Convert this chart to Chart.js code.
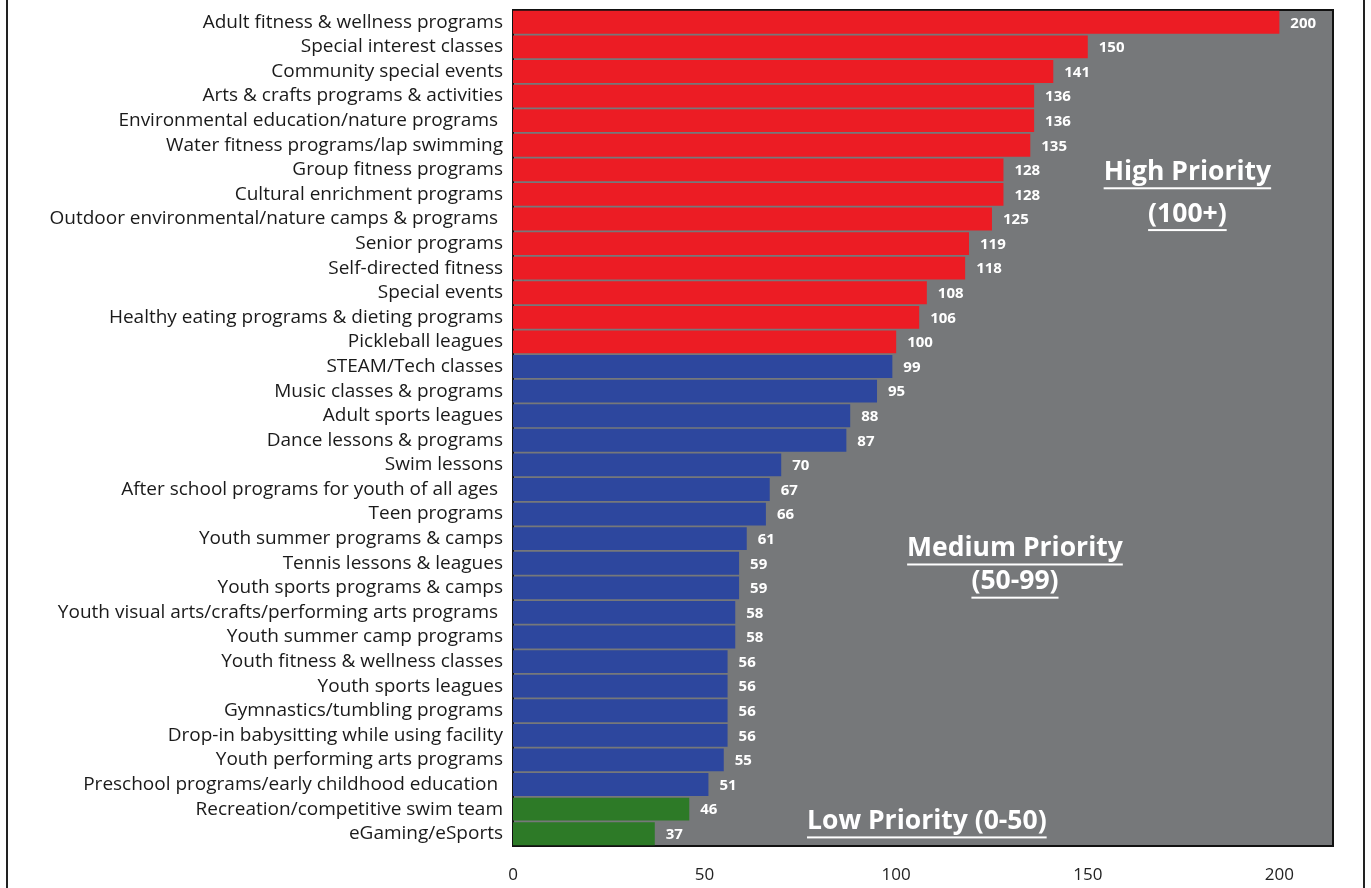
<!DOCTYPE html>
<html>
<head>
<meta charset="utf-8">
<script src="https://cdn.jsdelivr.net/npm/chart.js@4"></script>
<style>
  html, body { margin: 0; padding: 0; background: #fff; }
  #wrap { position: relative; width: 1371px; height: 888px; }
  #frame { position: absolute; left: 6px; top: 0; width: 1359px; height: 888px; border-left: 2px solid #222; border-right: 2px solid #222; box-sizing: border-box; pointer-events: none; }
</style>
</head>
<body>
<div id="wrap">
  <canvas id="chart1" width="1371" height="888"></canvas>
  <div id="frame"></div>
</div>
<script>
// data
var programs = [
    "Adult fitness & wellness programs",
    "Special interest classes",
    "Community special events",
    "Arts & crafts programs & activities",
    "Environmental education/nature programs ",
    "Water fitness programs/lap swimming",
    "Group fitness programs",
    "Cultural enrichment programs",
    "Outdoor environmental/nature camps & programs ",
    "Senior programs",
    "Self-directed fitness",
    "Special events",
    "Healthy eating programs & dieting programs",
    "Pickleball leagues",
    "STEAM/Tech classes",
    "Music classes & programs",
    "Adult sports leagues",
    "Dance lessons & programs",
    "Swim lessons",
    "After school programs for youth of all ages ",
    "Teen programs",
    "Youth summer programs & camps",
    "Tennis lessons & leagues",
    "Youth sports programs & camps",
    "Youth visual arts/crafts/performing arts programs ",
    "Youth summer camp programs",
    "Youth fitness & wellness classes",
    "Youth sports leagues",
    "Gymnastics/tumbling programs",
    "Drop-in babysitting while using facility",
    "Youth performing arts programs",
    "Preschool programs/early childhood education ",
    "Recreation/competitive swim team",
    "eGaming/eSports"
];
var scores = [200, 150, 141, 136, 136, 135, 128, 128, 125, 119, 118, 108, 106, 100,
    99, 95, 88, 87, 70, 67, 66, 61, 59, 59, 58, 58, 56, 56, 56, 56, 55, 51, 46, 37];
var xTicks = [0, 50, 100, 150, 200];

// priority notes: text, value on x, row position on y
var notes = [
    { text: "High Priority", x: 176, y: 6.1 },
    { text: "(100+)", x: 176, y: 7.8 },
    { text: "Medium Priority", x: 131, y: 21.4 },
    { text: "(50-99)", x: 131, y: 22.75 },
    { text: "Low Priority (0-50)", x: 108, y: 32.5 }
];

var barColors = scores.map(function (v) {
    if (v >= 100) return "#ec1c24";
    if (v > 50) return "#2d479e";
    return "#2d7a27";
});

var plotBg = {
    id: 'plotBg',
    beforeDraw: function (chart) {
        var a = chart.chartArea, c = chart.ctx;
        c.save();
        c.fillStyle = "#76787a";
        c.fillRect(a.left, a.top, a.right - a.left, a.bottom - a.top);
        c.strokeStyle = "#111";
        c.lineWidth = 2;
        c.strokeRect(a.left, a.top, a.right - a.left, a.bottom - a.top);
        c.restore();
    }
};

var valueLabels = {
    id: 'valueLabels',
    afterDatasetsDraw: function (chart) {
        var c = chart.ctx, meta = chart.getDatasetMeta(0);
        c.save();
        c.fillStyle = "#fff";
        c.font = "bold 15px 'Open Sans', sans-serif";
        c.textBaseline = "middle";
        c.textAlign = "left";
        meta.data.forEach(function (bar, i) {
            c.fillText(scores[i], bar.x + 11, bar.y + 1);
        });
        // priority notes
        var xs = chart.scales.x, ys = chart.scales.y;
        c.font = "bold 26.5px 'Open Sans', sans-serif";
        c.textAlign = "center";
        notes.forEach(function (n) {
            var px = xs.getPixelForValue(n.x), py = ys.getPixelForValue(n.y);
            c.fillText(n.text, px, py);
            var w = c.measureText(n.text).width;
            c.fillRect(px - w / 2, py + 15, w, 2);
        });
        c.restore();
    }
};

var char1El = document.getElementById('chart1');
new Chart(char1El, {
    type: 'bar',
    data: {
        labels: programs,
        datasets: [{
            label: "",
            backgroundColor: barColors,
            borderWidth: 0,
            barPercentage: 0.93,
            categoryPercentage: 1,
            data: scores
        }]
    },
    options: {
        indexAxis: 'y',
        responsive: false,
        animation: false,
        layout: { padding: { top: 10, right: 38, bottom: 0, left: 0 } },
        plugins: {
            legend: { display: false },
            tooltip: { enabled: false }
        },
        scales: {
            x: {
                min: 0,
                max: 214,
                afterBuildTicks: function (axis) {
                    axis.ticks = xTicks.map(function (v) { return { value: v }; });
                },
                afterFit: function (axis) { axis.height = 42; },
                grid: { display: false, drawTicks: false },
                border: { display: false },
                ticks: {
                    color: "#222",
                    padding: 19,
                    font: { family: "'Open Sans', sans-serif", size: 17 }
                }
            },
            y: {
                grid: { display: false, drawTicks: false },
                border: { display: false },
                afterFit: function (axis) {
                    axis.width = 513;
                    axis.paddingTop = 0;
                    axis.paddingBottom = 0;
                },
                ticks: {
                    color: "#1a1a1a",
                    padding: 10,
                    autoSkip: false,
                    font: { family: "'Open Sans', sans-serif", size: 19 }
                }
            }
        }
    },
    plugins: [plotBg, valueLabels]
});
</script>
</body>
</html>
